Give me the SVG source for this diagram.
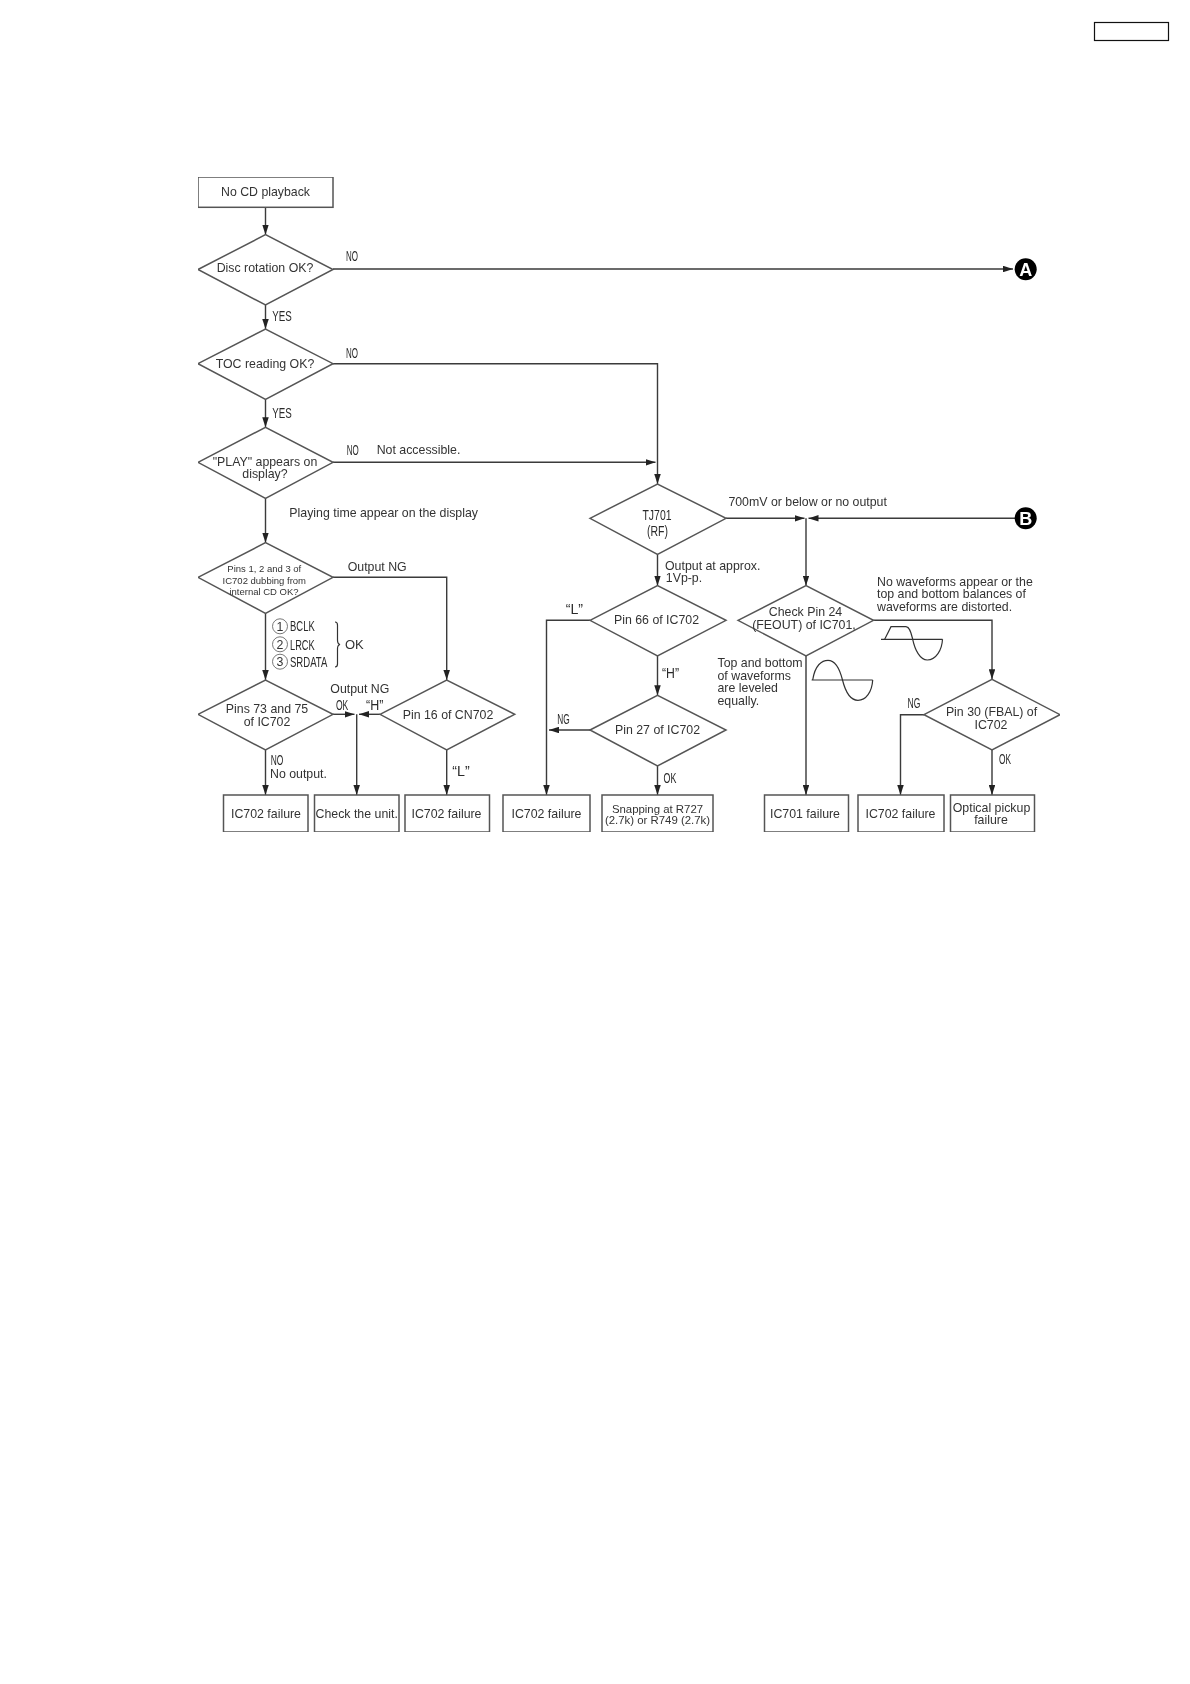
<svg xmlns="http://www.w3.org/2000/svg" width="1190" height="1684" viewBox="0 0 1190 1684">
<style>
text{font-family:"Liberation Sans",Arial,sans-serif;font-size:12.35px;fill:#333}
.c{text-anchor:middle}
.s{font-size:9.5px}
.t{font-size:11.4px}
.n{font-size:15px;fill:#2a2a2a}
.b{fill:#fff;stroke:#555;stroke-width:1.5}
.k{fill:none;stroke:#3a3a3a;stroke-width:1.4}
.w{fill:none;stroke:#333;stroke-width:1.2}
.m{fill:#fff;stroke:#777;stroke-width:1}
.l{font-size:18px;font-weight:bold;fill:#fff}
.o{font-size:13px}
</style>
<defs>
<marker id="ah" markerUnits="userSpaceOnUse" markerWidth="10" markerHeight="6.5" refX="10" refY="3.25" orient="auto"><path d="M0 0L10 3.25L0 6.5Z" fill="#222"/></marker>
<filter id="soft" x="0" y="0" width="1" height="1"><feGaussianBlur stdDeviation="0.35"/></filter>
</defs>
<rect width="1190" height="1684" fill="#fff"/>
<rect id="page-tag" x="1094.5" y="22.5" width="74" height="18" fill="none" stroke="#111" stroke-width="1.2"/>
<g filter="url(#soft)">
<g id="connectors" class="k">
<path d="M265.5 207V234.7" marker-end="url(#ah)"/>
<path d="M333 269H1013" marker-end="url(#ah)"/>
<path d="M265.5 305V329" marker-end="url(#ah)"/>
<path d="M333 363.7H657.5V484" marker-end="url(#ah)"/>
<path d="M265.5 399.3V427.3" marker-end="url(#ah)"/>
<path d="M333 462.3H655.5" marker-end="url(#ah)"/>
<path d="M265.5 498.3V542.7" marker-end="url(#ah)"/>
<path d="M333 577.3H446.7V680" marker-end="url(#ah)"/>
<path d="M265.5 613.3V680" marker-end="url(#ah)"/>
<path d="M333 714.3H354.5" marker-end="url(#ah)"/>
<path d="M380 714.3H359" marker-end="url(#ah)"/>
<path d="M356.7 714.3V795" marker-end="url(#ah)"/>
<path d="M265.5 750V795" marker-end="url(#ah)"/>
<path d="M446.7 750V795" marker-end="url(#ah)"/>
<path d="M657.5 554.3V585.7" marker-end="url(#ah)"/>
<path d="M590 620.3H546.5V795" marker-end="url(#ah)"/>
<path d="M657.5 656V695.3" marker-end="url(#ah)"/>
<path d="M590 730H549" marker-end="url(#ah)"/>
<path d="M657.5 766V795" marker-end="url(#ah)"/>
<path d="M726 518.3H804.5" marker-end="url(#ah)"/>
<path d="M1015 518.3H808.5" marker-end="url(#ah)"/>
<path d="M806 518.3V585.7" marker-end="url(#ah)"/>
<path d="M806 656V795" marker-end="url(#ah)"/>
<path d="M873.5 620.3H992V679.3" marker-end="url(#ah)"/>
<path d="M924 714.7H900.5V795" marker-end="url(#ah)"/>
<path d="M992 750V795" marker-end="url(#ah)"/>
</g>
<g id="start"><rect class="b" x="198" y="177" width="135" height="30.3"/><text class="c" x="265.5" y="196" textLength="89" lengthAdjust="spacingAndGlyphs">No CD playback</text></g>
<g id="d-disc"><path class="b" d="M198 269.5L265.5 234.7L333 269.5L265.5 305Z"/><text class="c" x="265" y="272">Disc rotation OK?</text></g>
<g id="d-toc"><path class="b" d="M198 363.7L265.5 329L333 363.7L265.5 399.3Z"/><text class="c" x="265" y="367.7">TOC reading OK?</text></g>
<g id="d-play"><path class="b" d="M198 462.3L265.5 427.3L333 462.3L265.5 498.3Z"/><text class="c" x="265" y="465.7">"PLAY" appears on</text><text class="c" x="265" y="477.7">display?</text></g>
<g id="d-pins123"><path class="b" d="M198 577.3L265.5 542.7L333 577.3L265.5 613.3Z"/><text class="c s" x="264.3" y="572.3">Pins 1, 2 and 3 of</text><text class="c s" x="264.3" y="583.7">IC702 dubbing from</text><text class="c s" x="264" y="594.7">internal CD OK?</text></g>
<g id="d-pins73"><path class="b" d="M198 714.3L265.5 680L333 714.3L265.5 750Z"/><text class="c" x="267" y="713">Pins 73 and 75</text><text class="c" x="267" y="725.7">of IC702</text></g>
<g id="d-pin16"><path class="b" d="M380 714.3L446.7 680L514.7 714.3L446.7 750Z"/><text class="c" x="448" y="719">Pin 16 of CN702</text></g>
<g id="d-tj701"><path class="b" d="M590 518.3L657.5 484L726 518.3L657.5 554.3Z"/><text class="c n" x="657" y="520" textLength="29" lengthAdjust="spacingAndGlyphs">TJ701</text><text class="c n" x="657.5" y="535.5" textLength="21" lengthAdjust="spacingAndGlyphs">(RF)</text></g>
<g id="d-pin66"><path class="b" d="M590 620.3L657.5 585.7L726 620.3L657.5 656Z"/><text class="c" x="656.5" y="624.3">Pin 66 of IC702</text></g>
<g id="d-pin27"><path class="b" d="M590 730L657.5 695.3L726 730L657.5 766Z"/><text class="c" x="657.5" y="734">Pin 27 of IC702</text></g>
<g id="d-pin24"><path class="b" d="M738 620.3L806 585.7L873.5 620.3L806 656Z"/><text class="c" x="805.5" y="616">Check Pin 24</text><text class="c" x="804" y="628.7">(FEOUT) of IC701,</text></g>
<g id="d-pin30"><path class="b" d="M924 714.7L992 679.3L1060 714.7L992 750Z"/><text class="c" x="991.5" y="716">Pin 30 (FBAL) of</text><text class="c" x="991" y="728.7">IC702</text></g>
<g id="box1"><rect class="b" x="223.5" y="795" width="84.5" height="37"/><text class="c" x="266" y="818">IC702 failure</text></g>
<g id="box2"><rect class="b" x="314.5" y="795" width="84.5" height="37"/><text class="c" x="356.7" y="818">Check the unit.</text></g>
<g id="box3"><rect class="b" x="405" y="795" width="84.5" height="37"/><text class="c" x="446.5" y="818">IC702 failure</text></g>
<g id="box4"><rect class="b" x="503" y="795" width="87" height="37"/><text class="c" x="546.5" y="818.3">IC702 failure</text></g>
<g id="box5"><rect class="b" x="602" y="795" width="111" height="37"/><text class="c t" x="657.5" y="812.7">Snapping at R727</text><text class="c t" x="657.5" y="824.3">(2.7k) or R749 (2.7k)</text></g>
<g id="box6"><rect class="b" x="764.5" y="795" width="84" height="37"/><text class="c" x="805" y="818">IC701 failure</text></g>
<g id="box7"><rect class="b" x="858" y="795" width="86" height="37"/><text class="c" x="900.5" y="818">IC702 failure</text></g>
<g id="box8"><rect class="b" x="950.5" y="795" width="84" height="37"/><text class="c" x="991.5" y="812">Optical pickup</text><text class="c" x="991" y="824">failure</text></g>
<g id="term-a"><circle cx="1025.7" cy="269.3" r="11" fill="#000"/><text class="c l" x="1025.7" y="275.7">A</text></g>
<g id="term-b"><circle cx="1025.7" cy="518.3" r="11" fill="#000"/><text class="c l" x="1025.7" y="524.7">B</text></g>
<g id="labels">
<text class="n" x="346" y="261" textLength="12" lengthAdjust="spacingAndGlyphs">NO</text>
<text class="n" x="272.3" y="320.7" textLength="19.5" lengthAdjust="spacingAndGlyphs">YES</text>
<text class="n" x="346" y="358" textLength="12" lengthAdjust="spacingAndGlyphs">NO</text>
<text class="n" x="272.3" y="418.3" textLength="19.5" lengthAdjust="spacingAndGlyphs">YES</text>
<text class="n" x="346.7" y="455.3" textLength="12" lengthAdjust="spacingAndGlyphs">NO</text>
<text x="376.7" y="454">Not accessible.</text>
<text x="289.3" y="517.3">Playing time appear on the display</text>
<text x="347.7" y="571.3">Output NG</text>
<text x="330.3" y="692.7">Output NG</text>
<text class="n" x="336" y="710.3" textLength="12.3" lengthAdjust="spacingAndGlyphs">OK</text>
<text class="n" x="366" y="710.3" textLength="17.3" lengthAdjust="spacingAndGlyphs">“H”</text>
<text class="n" x="270.7" y="765.3" textLength="12.6" lengthAdjust="spacingAndGlyphs">NO</text>
<text x="270" y="777.7">No output.</text>
<text class="n" x="452.3" y="776.3" textLength="17.4" lengthAdjust="spacingAndGlyphs">“L”</text>
<text class="n" x="565.7" y="614" textLength="17.3" lengthAdjust="spacingAndGlyphs">“L”</text>
<text class="n" x="557.3" y="724.3" textLength="12.4" lengthAdjust="spacingAndGlyphs">NG</text>
<text class="n" x="662" y="678.3" textLength="17" lengthAdjust="spacingAndGlyphs">“H”</text>
<text class="n" x="663.6" y="783.3" textLength="12.8" lengthAdjust="spacingAndGlyphs">OK</text>
<text x="728.4" y="506.3">700mV or below or no output</text>
<text x="665" y="570">Output at approx.</text>
<text x="665.8" y="582.3">1Vp-p.</text>
<text x="877" y="586">No waveforms appear or the</text>
<text x="877" y="598.3">top and bottom balances of</text>
<text x="877" y="610.7">waveforms are distorted.</text>
<text x="717.5" y="667.3">Top and bottom</text>
<text x="717.5" y="680">of waveforms</text>
<text x="717.5" y="692.3">are leveled</text>
<text x="717.5" y="705">equally.</text>
<text class="n" x="907.6" y="707.7" textLength="12.8" lengthAdjust="spacingAndGlyphs">NG</text>
<text class="n" x="999" y="764" textLength="12" lengthAdjust="spacingAndGlyphs">OK</text>
<text class="n" x="290" y="631.3" textLength="24.7" lengthAdjust="spacingAndGlyphs">BCLK</text>
<text class="n" x="290" y="649.7" textLength="24.7" lengthAdjust="spacingAndGlyphs">LRCK</text>
<text class="n" x="290" y="667" textLength="37.3" lengthAdjust="spacingAndGlyphs">SRDATA</text>
<text class="o" x="345" y="649">OK</text>
<circle class="m" cx="280" cy="626.3" r="7.5"/><text class="c" x="280" y="630.6">1</text>
<circle class="m" cx="280" cy="644.3" r="7.5"/><text class="c" x="280" y="648.6">2</text>
<circle class="m" cx="280" cy="661.7" r="7.5"/><text class="c" x="280" y="666">3</text>
</g>
<path id="brace" class="w" d="M335 622Q337.5 622 337.5 625V640Q337.5 644 340 644.5Q337.5 645 337.5 649V664Q337.5 667 335 667"/>
<g id="waveforms" class="w">
<path d="M811.6 680H872.7"/>
<path d="M812.7 680C815 665 822 660.3 828 660.3C836 660.3 840 670 842.5 680C845 690 850 700.3 858 700.3C866 700.3 872 692 872.7 680"/>
<path d="M881 639.3H942.5"/>
<path d="M884.7 639.3L891 626.7H906C910 627 911 633 912.7 639.3C915 650 920 660 927.3 660C936 660 942 650 942.5 639.3"/>
</g>
</g>
</svg>
